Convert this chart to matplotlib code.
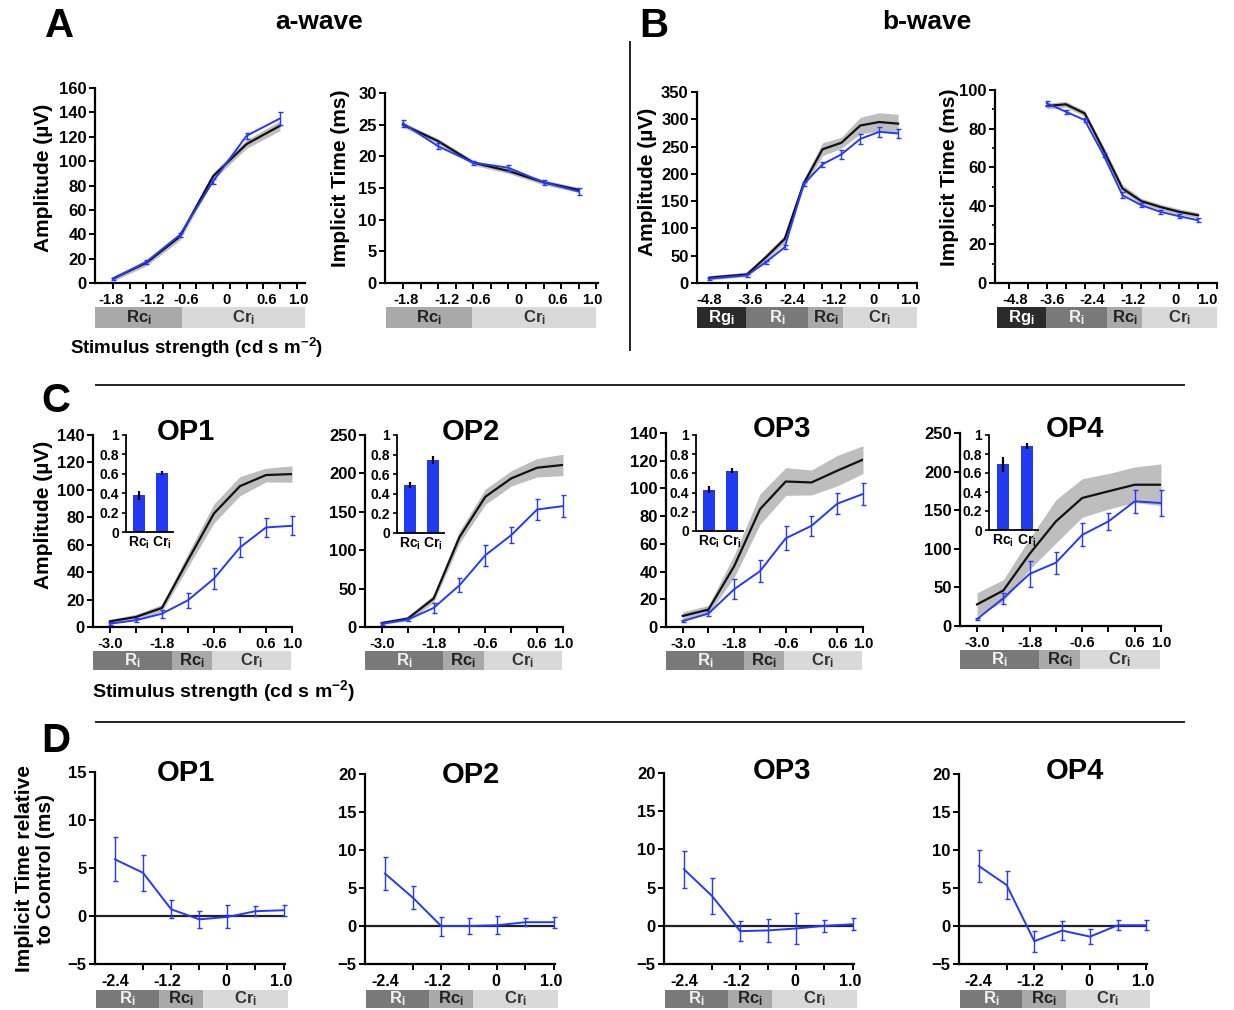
import numpy as np
import matplotlib
matplotlib.use('Agg')
import matplotlib.pyplot as plt
from matplotlib.patches import Rectangle
from matplotlib.lines import Line2D

plt.rcParams['font.family'] = ['Liberation Sans', 'DejaVu Sans']
plt.rcParams['font.weight'] = 'bold'
plt.rcParams['mathtext.fontset'] = 'custom'
plt.rcParams['mathtext.rm'] = 'Liberation Sans:bold'
plt.rcParams['mathtext.bf'] = 'Liberation Sans:bold'
plt.rcParams['mathtext.it'] = 'Liberation Sans:bold'

W, H = 1234, 1010
BLUE = '#2438ff'
BAND = '#bebebe'

# ---------------- data ----------------
# A: a-wave (6 flash strengths)
a_x = [0, 1, 2, 3, 4, 5]
a_amp_ctrl = [3.6, 16.6, 38.0, 87.7, 114.0, 129.0]
a_amp_ctrl_sd = [2, 2.5, 3, 3, 3.5, 4]
a_amp_trt = [3.3, 17.4, 39.4, 83.6, 120.8, 135.0]
a_amp_trt_err = [1.2, 1.5, 1.5, 2, 2.5, 5]
a_it_ctrl = [25.0, 22.4, 19.0, 17.7, 15.9, 14.7]
a_it_ctrl_sd = [0.4, 0.4, 0.4, 0.4, 0.4, 0.4]
a_it_trt = [25.2, 21.6, 19.0, 18.2, 15.9, 14.45]
a_it_trt_err = [0.6, 0.5, 0.3, 0.5, 0.4, 0.5]
a_ticklabels = ['-1.8', '-1.2', '-0.6', '0', '0.6', '1.0']

# B: b-wave
b_amp_x = [0, 2, 3, 4, 5, 6, 7, 8, 9, 10]
b_amp_ctrl = [9.7, 15.8, 47, 80.8, 182, 245, 257, 288.6, 295, 292]
b_amp_ctrl_sd = [4, 4, 6, 7, 8, 12, 10, 15, 17, 17]
b_amp_trt = [7.9, 14, 38, 65.6, 181, 217.5, 235.7, 264, 277, 274]
b_amp_trt_err = [2, 3, 3, 4, 4, 5, 8, 9, 9, 8]
b_it_x = [2, 3, 4, 5, 6, 7, 8, 9, 10]
b_it_ctrl = [91.7, 92.6, 87.9, 68.9, 49, 42.4, 39.4, 36.9, 35.1]
b_it_ctrl_sd = [1.5, 1.5, 1.5, 2, 2, 1.5, 1.5, 1.5, 1.5]
b_it_trt = [93.1, 88.8, 84.4, 66.3, 45.5, 40.3, 36.9, 34.6, 32.5]
b_it_trt_err = [1.2, 1, 1, 1.2, 1.5, 1, 1, 1, 1]
b_ticklabels = ['-4.8', '-3.6', '-2.4', '-1.2', '0', '1.0']

# C: OP amplitudes (8 flash strengths)
c_x = [0, 1, 2, 3, 4, 5, 6, 7]
c_ticklabels = ['-3.0', '', '-1.8', '', '-0.6', '', '0.6', '1.0']
op_names = ['OP1', 'OP2', 'OP3', 'OP4']
c_ctrl = [[4.1, 7.3, 13.9, 48.7, 82.8, 102.7, 110.8, 111.5],
          [5.2, 10.9, 37, 117, 169.6, 193.5, 207.4, 211],
          [8, 12.6, 44, 85, 105, 104.3, 112.8, 120.8],
          [28, 46, 93.5, 135.5, 165.8, 174.5, 183, 183]]
c_ctrl_sd = [[1.5, 2, 2.5, 5, 7, 7, 5, 6],
             [2, 3, 5, 8, 10, 10, 12, 14],
             [3, 3, 8, 11, 10, 9, 11, 10],
             [15, 14, 20, 28, 25, 23, 23, 27]]
c_trt = [[2.4, 4.9, 9.7, 19.5, 35.3, 58.0, 72.6, 73.8],
         [4.3, 9.6, 24.8, 54.3, 93.5, 119.6, 153, 157.4],
         [4.3, 9.7, 27.3, 40.3, 64, 73, 89, 96],
         [9, 36, 67.5, 82, 118, 135.5, 161.5, 159.3]]
c_trt_err = [[1, 1.5, 3, 5.6, 7.5, 7.3, 7, 7],
             [1.5, 2, 6.5, 9, 13.7, 10.6, 13.5, 14.6],
             [1, 2, 7, 7.8, 8.7, 7.2, 7.8, 7.8],
             [1, 7, 16.7, 14, 15, 11, 14.5, 17]]
c_ymax = [140, 250, 140, 250]
c_ystep = [20, 50, 20, 50]
ratio_cats = ['Rc$_\\mathrm{i}$', 'Cr$_\\mathrm{i}$']
c_ratio = [[0.38, 0.61], [0.49, 0.745], [0.43, 0.63], [0.69, 0.885]]
c_ratio_err = [[0.045, 0.02], [0.03, 0.04], [0.035, 0.03], [0.08, 0.035]]

# D: OP implicit time relative to control (7 flash strengths)
d_x = [0, 1, 2, 3, 4, 5, 6]
d_ticklabels = ['-2.4', '-1.2', '0', '1.0']
d_val = [[5.9, 4.5, 0.7, -0.35, -0.1, 0.5, 0.6],
         [6.9, 3.7, 0.0, 0.0, 0.1, 0.5, 0.5],
         [7.4, 3.9, -0.7, -0.6, -0.35, 0.0, 0.2],
         [7.9, 5.4, -2.0, -0.6, -1.4, 0.1, 0.1]]
d_err = [[2.3, 1.9, 0.95, 0.85, 1.2, 0.5, 0.55],
         [2.2, 1.5, 1.25, 1.05, 1.2, 0.5, 0.7],
         [2.4, 2.4, 1.3, 1.5, 2.05, 0.8, 0.8],
         [2.05, 1.8, 1.4, 1.2, 0.95, 0.65, 0.65]]
d_ymax = [15, 20, 20, 20]

# background ranges (response classes)
cls_color = {'Rg': '#2a2a2a', 'R': '#797979', 'Rc': '#a9a9a9', 'Cr': '#d9d9d9'}
cls_text = {'Rg': '#ffffff', 'R': '#f2f2f2', 'Rc': '#222222', 'Cr': '#333333'}

fig = plt.figure(figsize=(W / 100, H / 100), dpi=100)


def add_ax(l, t, r, b):
    return fig.add_axes([l / W, 1 - b / H, (r - l) / W, (b - t) / H])


def style(ax, ylim, yticks, xlim):
    for s in ['top', 'right']:
        ax.spines[s].set_visible(False)
    for s in ['left', 'bottom']:
        ax.spines[s].set_linewidth(1.6)
    ax.set_ylim(*ylim)
    ax.set_xlim(*xlim)
    ax.set_yticks(yticks)
    ax.tick_params(axis='y', length=4, width=1.4, labelsize=12, pad=2)
    ax.tick_params(axis='x', width=1.4, labelsize=10.5, pad=3)


def class_bar(ax, edges, names, gap, hpx):
    h_ax = ax.get_position().height * H
    y0 = -(gap + hpx) / h_ax
    h = hpx / h_ax
    tr = ax.get_xaxis_transform()
    for i, n in enumerate(names):
        ax.add_patch(Rectangle((edges[i], y0), edges[i + 1] - edges[i], h, transform=tr,
                               facecolor=cls_color[n], edgecolor='none', clip_on=False))
        ax.text((edges[i] + edges[i + 1]) / 2, y0 + h / 2, n + '$_\\mathrm{i}$', transform=tr,
                ha='center', va='center', fontsize=12, color=cls_text[n], fontweight='bold')


def band_line(ax, x, m, sd):
    m = np.array(m)
    sd = np.array(sd)
    ax.fill_between(x, m - sd, m + sd, color=BAND, lw=0, zorder=1)
    ax.plot(x, m, color='#111111', lw=1.6, zorder=2)


def blue_err(ax, x, m, e):
    ax.errorbar(x, m, yerr=e, color=BLUE, lw=1.4, elinewidth=1.0, capsize=1.8,
                capthick=1.0, zorder=3, clip_on=False)


def label_ticks(ax, grid, pos, labels):
    ax.set_xticks(grid, minor=True)
    ax.set_xticks(pos)
    ax.set_xticklabels(labels)
    ax.tick_params(axis='x', which='major', length=0, pad=7)
    ax.tick_params(axis='x', which='minor', length=4, width=1.4)


# ---------------- panel A ----------------
ax = add_ax(95, 88, 305, 283)
style(ax, (0, 160), range(0, 161, 20), (-0.54, 5.75))
band_line(ax, a_x, a_amp_ctrl, a_amp_ctrl_sd)
blue_err(ax, a_x, a_amp_trt, a_amp_trt_err)
label_ticks(ax, np.arange(0, 5.51, 0.5), [-0.05, 1.16, 2.2, 3.4, 4.6, 5.55], a_ticklabels)
class_bar(ax, [-0.54, 2.07, 5.75], ['Rc', 'Cr'], 24, 21)

ax = add_ax(385, 93, 598, 283)
style(ax, (0, 30), range(0, 31, 5), (-0.51, 5.55))
band_line(ax, a_x, a_it_ctrl, a_it_ctrl_sd)
blue_err(ax, a_x, a_it_trt, a_it_trt_err)
label_ticks(ax, np.arange(0, 5.51, 0.5), [0.1, 1.24, 2.15, 3.3, 4.4, 5.4], a_ticklabels)
class_bar(ax, [-0.48, 1.97, 5.5], ['Rc', 'Cr'], 24, 21)

# ---------------- panel B ----------------
ax = add_ax(697, 92, 917, 283)
style(ax, (0, 350), range(0, 351, 50), (-0.64, 11.0))
band_line(ax, b_amp_x, b_amp_ctrl, b_amp_ctrl_sd)
blue_err(ax, b_amp_x, b_amp_trt, b_amp_trt_err)
label_ticks(ax, np.arange(0, 11.01, 1), [0, 2.16, 4.4, 6.6, 8.7, 10.65], b_ticklabels)
class_bar(ax, [-0.64, 1.96, 5.25, 7.06, 11.0], ['Rg', 'R', 'Rc', 'Cr'], 24, 21)

ax = add_ax(995, 90, 1217, 283)
style(ax, (0, 100), range(0, 101, 20), (-0.74, 11.0))
ax.set_yticks(range(10, 100, 20), minor=True)
ax.tick_params(axis='y', which='minor', length=2.5, width=1.2)
band_line(ax, b_it_x, b_it_ctrl, b_it_ctrl_sd)
blue_err(ax, b_it_x, b_it_trt, b_it_trt_err)
label_ticks(ax, np.arange(0, 11.01, 1), [0.32, 2.3, 4.4, 6.56, 8.8, 10.5], b_ticklabels)
class_bar(ax, [-0.63, 1.96, 5.2, 7.06, 11.0], ['Rg', 'R', 'Rc', 'Cr'], 24, 21)

# ---------------- panel C ----------------
c_boxes = [(93, 435, 292, 627), (365, 435, 563, 627), (666, 433, 863, 627), (960, 433, 1161, 626)]
c_insets = [(126, 435, 173, 532), (397, 435, 444, 533), (696, 435, 743, 531), (989, 435, 1038, 530)]
c_titles = [(186, 432), (471, 432), (782, 429), (1075, 429)]
for k in range(4):
    ax = add_ax(*c_boxes[k])
    style(ax, (0, c_ymax[k]), range(0, c_ymax[k] + 1, c_ystep[k]), (-0.65, 7.0))
    band_line(ax, c_x, c_ctrl[k], c_ctrl_sd[k])
    blue_err(ax, c_x, c_trt[k], c_trt_err[k])
    ax.set_xticks(c_x)
    ax.set_xticklabels(c_ticklabels)
    ax.tick_params(axis='x', length=4)
    class_bar(ax, [-0.65, 2.37, 3.93, 6.95], ['R', 'Rc', 'Cr'], 24, 19)
    fig.text(c_titles[k][0] / W, 1 - c_titles[k][1] / H, op_names[k], ha='center', va='center',
             fontsize=21, fontweight='bold')

    ia = add_ax(*c_insets[k])
    for s in ['top', 'right']:
        ia.spines[s].set_visible(False)
    for s in ['left', 'bottom']:
        ia.spines[s].set_linewidth(1.3)
    ia.bar([0, 1], c_ratio[k], width=0.5, color='#1f3af0', zorder=2)
    ia.errorbar([0, 1], c_ratio[k], yerr=c_ratio_err[k], fmt='none', ecolor='black',
                elinewidth=1.6, capsize=0, zorder=3)
    ia.set_ylim(0, 1)
    ia.set_xlim(-0.57, 1.48)
    ia.set_yticks([0, 0.2, 0.4, 0.6, 0.8, 1])
    ia.set_yticklabels(['0', '0.2', '0.4', '0.6', '0.8', '1'])
    ia.set_xticks([0, 1])
    ia.set_xticklabels(ratio_cats)
    ia.tick_params(axis='y', length=3, width=1.2, labelsize=10, pad=2)
    ia.tick_params(axis='x', length=0, labelsize=10, pad=2)

# ---------------- panel D ----------------
d_boxes = [(95, 772, 285, 964), (365, 774, 555, 964), (664, 773, 854, 964), (959, 774, 1147, 964)]
d_titles = [(186, 773), (471, 775), (782, 771), (1075, 771)]
for k in range(4):
    ax = add_ax(*d_boxes[k])
    style(ax, (-5, d_ymax[k]), range(-5, d_ymax[k] + 1, 5), (-0.71, 6.05))
    ax.axhline(0, color='#222222', lw=1.6, zorder=1)
    blue_err(ax, d_x, d_val[k], d_err[k])
    label_ticks(ax, d_x, [0, 1.85, 3.95, 5.9], d_ticklabels)
    ax.tick_params(axis='x', which='major', labelsize=11.5)
    class_bar(ax, [-0.68, 1.57, 3.13, 6.15], ['R', 'Rc', 'Cr'], 26, 18)
    fig.text(d_titles[k][0] / W, 1 - d_titles[k][1] / H, op_names[k], ha='center', va='center',
             fontsize=21, fontweight='bold')

# ---------------- labels, titles, separators ----------------
def ftext(x, y, s, **kw):
    fig.text(x / W, 1 - y / H, s, ha='center', va='center', fontweight='bold', **kw)


ftext(60, 26, 'A', fontsize=29)
ftext(654, 26, 'B', fontsize=29)
ftext(56, 401, 'C', fontsize=29)
ftext(56, 741, 'D', fontsize=29)
ftext(319, 22, 'a-wave', fontsize=19)
ftext(927, 22, 'b-wave', fontsize=19)

ftext(44, 178, 'Amplitude (µV)', fontsize=15, rotation=90)
ftext(341, 178, 'Implicit Time (ms)', fontsize=15, rotation=90)
ftext(648, 182, 'Amplitude (µV)', fontsize=15, rotation=90)
ftext(949, 177, 'Implicit Time (ms)', fontsize=15, rotation=90)
ftext(44, 515, 'Amplitude (µV)', fontsize=15, rotation=90)
ftext(35, 869, 'Implicit Time relative\nto Control (ms)', fontsize=15, rotation=90,
      linespacing=1.1)

fig.text(70 / W, 1 - 348 / H, 'Stimulus strength (cd s m$^{-2}$)', ha='left', va='center',
         fontsize=13.5, fontweight='bold')
fig.text(92 / W, 1 - 691 / H, 'Stimulus strength (cd s m$^{-2}$)', ha='left', va='center',
         fontsize=14, fontweight='bold')

fig.add_artist(Line2D([630 / W, 630 / W], [1 - 42 / H, 1 - 350 / H], color='#222222', lw=1.4))
fig.add_artist(Line2D([96 / W, 1184 / W], [1 - 385 / H, 1 - 385 / H], color='#222222', lw=1.4))
fig.add_artist(Line2D([96 / W, 1184 / W], [1 - 722 / H, 1 - 722 / H], color='#222222', lw=1.4))

fig.savefig('out.png', dpi=100)
